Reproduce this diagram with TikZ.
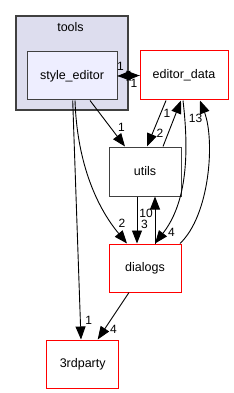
\documentclass[tikz,border=0pt]{standalone}
\usepackage{fontspec}
\setmainfont{Liberation Sans}
\usetikzlibrary{arrows.meta,calc}
\definecolor{clusterfill}{HTML}{DDDDEE}
\definecolor{innerfill}{HTML}{EEEEFF}
\definecolor{bordergrey}{HTML}{404040}
\tikzset{
  dirbox/.style={draw=red, fill=white, line width=1pt, minimum width=72pt, minimum height=48pt, inner sep=0pt, font=\fontsize{12.5}{14}\selectfont},
  greybox/.style={dirbox, draw=bordergrey},
  dep/.style={draw=black, line width=0.9pt, -{Triangle[length=13pt,width=10pt]}},
  elabel/.style={font=\fontsize{12}{13}\selectfont, inner sep=0pt}
}
\begin{document}
\begin{tikzpicture}[x=1pt,y=-1pt]
\useasboundingbox (0,0) rectangle (233,393);
% cluster
\node[draw=bordergrey, fill=clusterfill, line width=1.2pt, minimum width=112pt, minimum height=94pt, inner sep=0pt] (tools) at (72,63) {};
\node[font=\fontsize{12.5}{14}\selectfont, inner sep=0pt] (toolslbl) at (70.5,27.5) {tools};
% nodes
\node[greybox, fill=innerfill, minimum width=90pt] (se) at (72,76) {style\_editor};
\node[dirbox, minimum width=88pt, minimum height=49pt] (ed) at (184,75.5) {editor\_data};
\node[greybox, minimum height=49pt] (ut) at (145,171.5) {utils};
\node[dirbox] (dl) at (145,268) {dialogs};
\node[dirbox] (tp) at (82.7,364) {3rdparty};
% edges
\draw[dep] (se.east) -- (ed.west);
\draw[dep] (ed.west) -- (se.east);
\node[elabel] (l1) at (120.5,66) {1};
\node[elabel] (l2) at (134,83.5) {1};
\draw[dep] ($(se.south)+(18,0)$) -- ($(ut.north)+(-20,0)$);
\node[elabel] (l3) at (121.5,127.5) {1};
\draw[dep] ($(ed.south)+(-18,0)$) -- ($(ut.north)+(2,0)$);
\node[elabel] (l4) at (160,133) {2};
\draw[dep] ($(ut.north)+(18,0)$) -- ($(ed.south)+(-3,0)$);
\node[elabel] (l5) at (167,113) {1};
\draw[dep] ($(ut.south)+(-8,0)$) -- ($(dl.north)+(-8,0)$);
\node[elabel] (l6) at (144.5,224.5) {3};
\draw[dep] ($(dl.north)+(10,0)$) -- ($(ut.south)+(10,0)$);
\node[elabel] (l7) at (146,213.5) {10};
\draw[dep] ($(se.south)+(3,0)$) .. controls (77,160) and (95,205) .. ($(dl.north)+(-18,0)$);
\node[elabel] (l8) at (122,223.5) {2};
\draw[dep] ($(se.south)+(0.7,0)$) -- ($(tp.north)+(-1.7,0)$);
\node[elabel] (l9) at (88.7,320) {1};
\draw[dep] ($(dl.south)+(-16,0)$) -- ($(tp.north)+(15,0)$);
\node[elabel] (l10) at (113.5,329) {4};
\draw[dep] ($(ed.south)+(-1,0)$) .. controls (190,160) and (185,205) .. ($(dl.north)+(10,0)$);
\node[elabel] (l11) at (171.5,232) {4};
\draw[dep] ($(dl.north)+(35,0)$) .. controls (210,215) and (215,140) .. ($(ed.south)+(16,0)$);
\node[elabel] (l12) at (195.5,118) {13};
\end{tikzpicture}
\end{document}
